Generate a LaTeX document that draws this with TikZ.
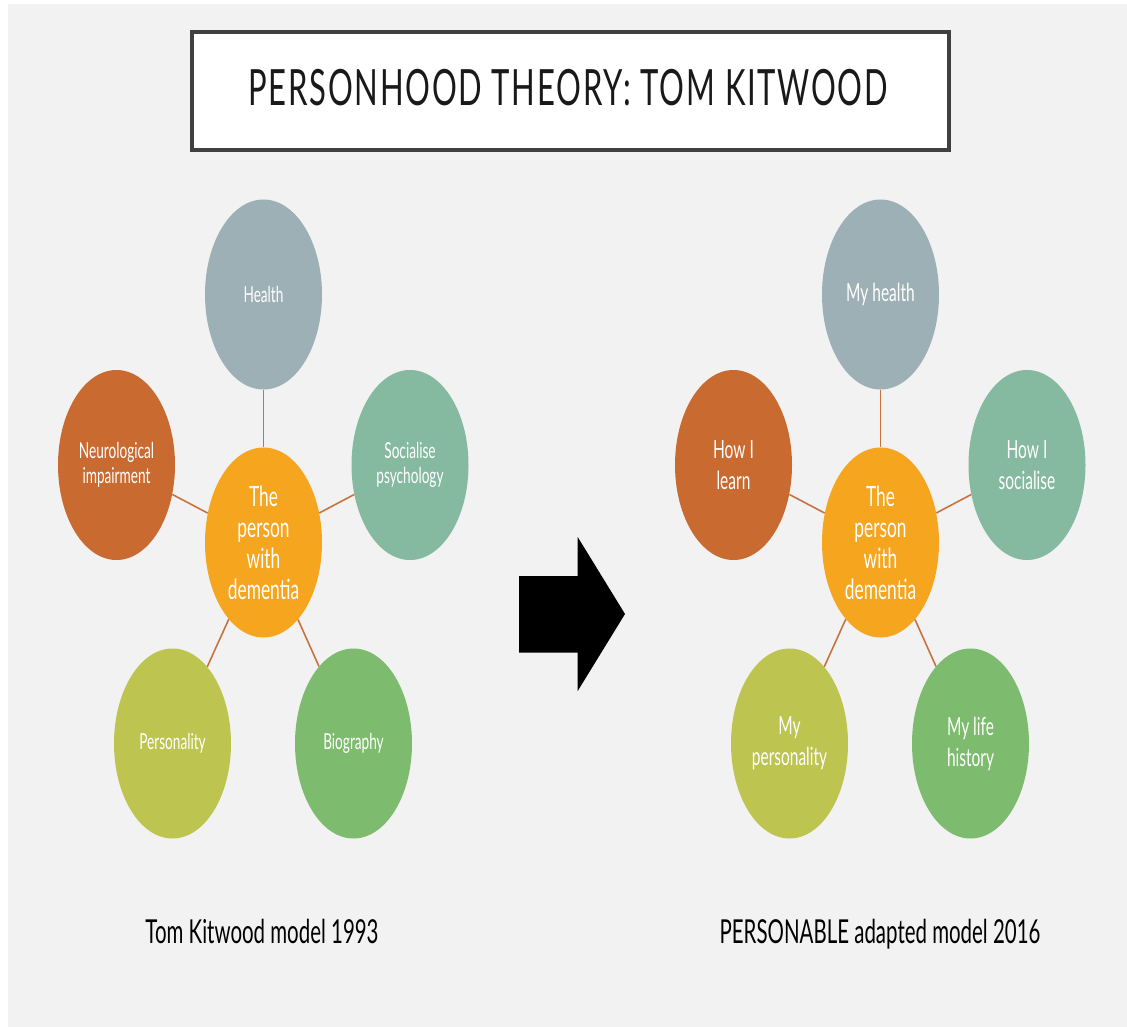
\documentclass[tikz,border=0pt]{standalone}
\usepackage{fontspec}
\setmainfont{Lato}[FakeStretch=0.62]
\newfontfamily\titlefont{Lato}[FakeStretch=0.62, LetterSpace=3.5]
\usetikzlibrary{shapes.geometric}

\definecolor{pagebg}{HTML}{F2F2F2}
\definecolor{framegray}{HTML}{404040}
\definecolor{hubcol}{HTML}{F6A51F}
\definecolor{healthcol}{HTML}{9DB0B5}
\definecolor{neurocol}{HTML}{C96A31}
\definecolor{socialcol}{HTML}{85B9A0}
\definecolor{perscol}{HTML}{BDC44F}
\definecolor{biocol}{HTML}{7DBC6E}
\definecolor{linkcol}{HTML}{C8733F}

\tikzset{
  bubble/.style={ellipse, minimum width=117pt, minimum height=190pt, inner sep=0pt,
    text=white, align=center, draw=none},
  small/.style={font=\fontsize{22}{25}\selectfont},
  large/.style={font=\fontsize{25}{31}\selectfont},
  hub/.style={bubble, fill=hubcol, font=\fontsize{28}{31}\selectfont},
  link/.style={draw=linkcol, line width=1.6pt},
  caption/.style={anchor=base, font=\fontsize{33}{36}\selectfont, text=black, inner sep=0pt},
}

\begin{document}
\begin{tikzpicture}[x=1pt, y=-1pt]
  \useasboundingbox (0,0) rectangle (1127,1027);
  \fill[pagebg] (8,4) rectangle (1127,1027);

  % title banner
  \draw[framegray, line width=4pt, fill=white] (192,32) rectangle (949,150);
  \node[anchor=base, inner sep=0pt, font=\titlefont\fontsize{50}{54}\selectfont, text=black!90]
    (title) at (568,106) {PERSONHOOD THEORY: TOM KITWOOD};

  % Kitwood model (1993)
  \node[hub] (c1) at (263.5,542.5) {The\\person\\with\\dementia};
  \node[bubble, small, fill=healthcol] (h1) at (263.5,294.5) {Health};
  \node[bubble, small, fill=neurocol]  (n1) at (116.5,465) {Neurological\\impairment};
  \node[bubble, small, fill=socialcol] (s1) at (410,465) {Socialise\\psychology};
  \node[bubble, small, fill=perscol]   (p1) at (172.5,743.5) {Personality};
  \node[bubble, small, fill=biocol]    (b1) at (353.5,743.5) {Biography};
  \foreach \o in {h1,n1,s1,p1,b1} \draw[link] (c1) -- (\o);

  % PERSONABLE adaptation (2016)
  \node[hub] (c2) at (880.5,542.5) {The\\person\\with\\dementia};
  \node[bubble, large, fill=healthcol] (h2) at (880.5,294.5) {My health};
  \node[bubble, large, fill=neurocol]  (n2) at (733.5,465) {How I\\learn};
  \node[bubble, large, fill=socialcol] (s2) at (1027,465) {How I\\socialise};
  \node[bubble, large, fill=perscol]   (p2) at (789.5,743.5) {My\\personality};
  \node[bubble, large, fill=biocol]    (b2) at (970.5,743.5) {My life\\history};
  \foreach \o in {h2,n2,s2,p2,b2} \draw[link] (c2) -- (\o);

  % block arrow between the two models
  \fill[black] (519,576) -- (577.7,576) -- (577.7,537) -- (625,614)
    -- (577.7,691) -- (577.7,652.7) -- (519,652.7) -- cycle;

  % captions
  \node[caption] (cap1) at (262,943) {Tom Kitwood model 1993};
  \node[caption] (cap2) at (880,943) {PERSONABLE adapted model 2016};
\end{tikzpicture}
\end{document}
